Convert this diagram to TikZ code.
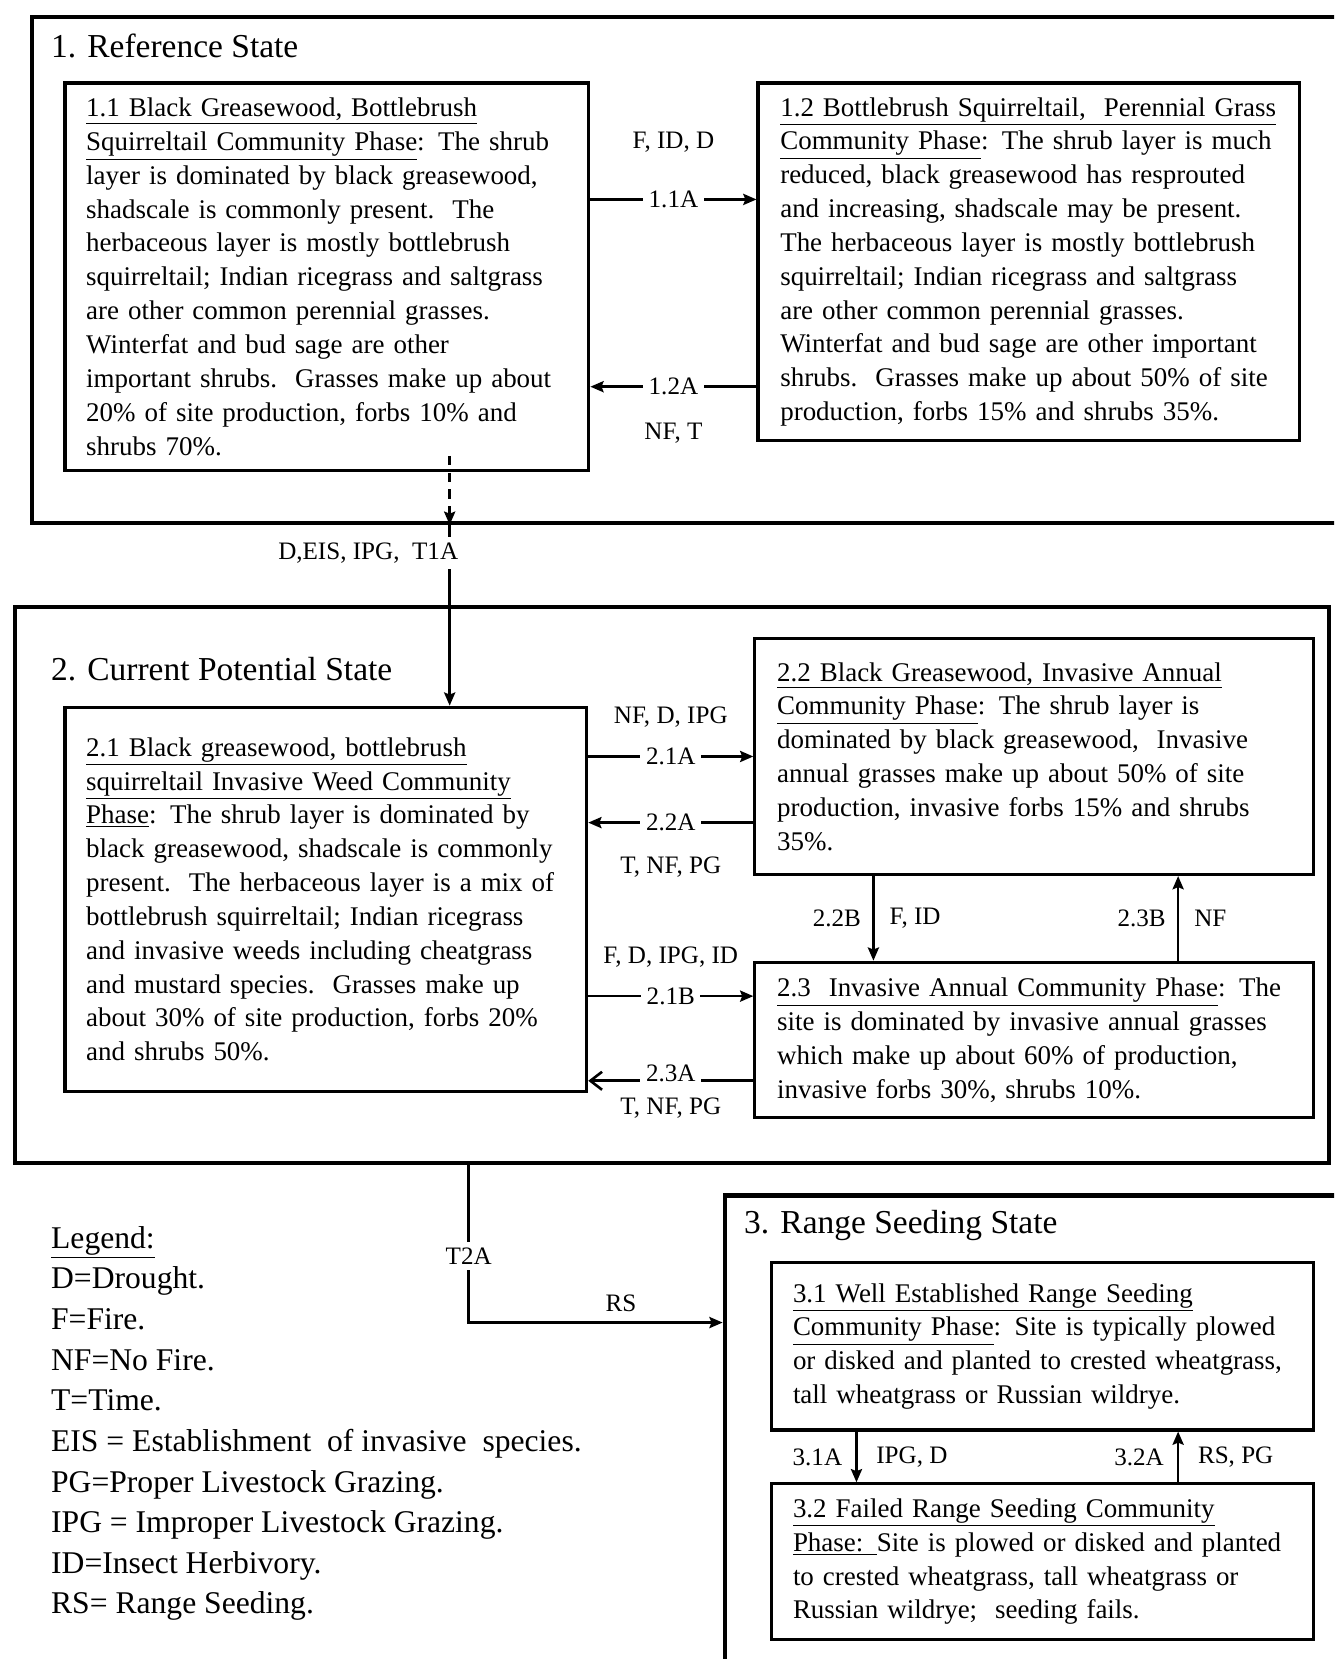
\documentclass[tikz,border=0pt]{standalone}
\usepackage{fontspec}
\setmainfont{Liberation Serif}
\usetikzlibrary{arrows.meta, positioning}

\begin{document}
\begin{tikzpicture}[
  state/.style={draw, line width=2.3pt, anchor=north west, inner sep=0pt},
  phase/.style={draw, line width=1.7pt, anchor=north west, align=left,
    inner xsep=0.4cm, inner ysep=0pt, font=\fontsize{14.5}{18.2}\selectfont},
  ttl/.style={anchor=west, inner sep=0pt, font=\fontsize{18}{22}\selectfont},
  lbl/.style={font=\fontsize{13.5}{16}\selectfont, inner sep=2pt},
  cut/.style={lbl, fill=white, inner sep=3pt},
  arr/.style={-{Stealth[length=2.5mm, width=2.1mm, inset=0.4mm]}, line width=1.4pt},
  barb/.style={-{Straight Barb[length=2.2mm, width=3.4mm]}, line width=1.4pt}
]
  \useasboundingbox (0,0) rectangle (25.22,-31.36);
  \clip (0,0) rectangle (25.22,-31.36);

  % states
  \node[state, minimum width=25.44cm, minimum height=9.56cm] (st1) at (0.56,-0.28) {};
  \node[state, minimum width=24.84cm, minimum height=10.5cm] (st2) at (0.24,-11.44) {};
  \node[state, minimum width=12cm, minimum height=10cm] (st3) at (13.66,-22.56) {};

  \node[ttl] (t1) at ([xshift=0.4cm, yshift=-0.58cm]st1.north west) {1. Reference State};
  \node[ttl] (t2) at ([xshift=0.72cm, yshift=-1.2cm]st2.north west) {2. Current Potential State};
  \node[ttl] (t3) at ([xshift=0.4cm, yshift=-0.6cm]st3.north west) {3. Range Seeding State};

  % reference state phases
  \node[phase, text width=9.1cm, minimum width=9.9cm, minimum height=7.32cm] (p11)
    at ([xshift=0.64cm, yshift=-1.26cm]st1.north west)
    {\underline{1.1 Black Greasewood, Bottlebrush}\\
     \underline{Squirreltail Community Phase}: The shrub\\
     layer is dominated by black greasewood,\\
     shadscale is commonly present.\ \ The\\
     herbaceous layer is mostly bottlebrush\\
     squirreltail; Indian ricegrass and saltgrass\\
     are other common perennial grasses.\\
     Winterfat and bud sage are other\\
     important shrubs.\ \ Grasses make up about\\
     20\% of site production, forbs 10\% and\\
     shrubs 70\%.};
  \node[phase, text width=9.4cm, minimum width=10.24cm, minimum height=6.76cm,
    right=3.14cm of p11.north east, anchor=north west] (p12)
    {\underline{1.2 Bottlebrush Squirreltail,\ \ Perennial Grass}\\
     \underline{Community Phase}: The shrub layer is much\\
     reduced, black greasewood has resprouted\\
     and increasing, shadscale may be present.\\
     The herbaceous layer is mostly bottlebrush\\
     squirreltail; Indian ricegrass and saltgrass\\
     are other common perennial grasses.\\
     Winterfat and bud sage are other important\\
     shrubs.\ \ Grasses make up about 50\% of site\\
     production, forbs 15\% and shrubs 35\%.};

  % current potential state phases
  \node[phase, text width=9.06cm, minimum width=9.86cm, minimum height=7.26cm] (p21)
    at ([xshift=0.96cm, yshift=-1.9cm]st2.north west)
    {\underline{2.1 Black greasewood, bottlebrush}\\
     \underline{squirreltail Invasive Weed Community}\\
     \underline{Phase}: The shrub layer is dominated by\\
     black greasewood, shadscale is commonly\\
     present.\ \ The herbaceous layer is a mix of\\
     bottlebrush squirreltail; Indian ricegrass\\
     and invasive weeds including cheatgrass\\
     and mustard species.\ \ Grasses make up\\
     about 30\% of site production, forbs 20\%\\
     and shrubs 50\%.};
  \node[phase, text width=9.72cm, minimum width=10.56cm, minimum height=4.46cm] (p22)
    at ([xshift=14cm, yshift=-0.6cm]st2.north west)
    {\underline{2.2 Black Greasewood, Invasive Annual}\\
     \underline{Community Phase}: The shrub layer is\\
     dominated by black greasewood,\ \ Invasive\\
     annual grasses make up about 50\% of site\\
     production, invasive forbs 15\% and shrubs\\
     35\%.};
  \node[phase, text width=9.72cm, minimum width=10.56cm, minimum height=2.94cm,
    below=1.6cm of p22.south west, anchor=north west] (p23)
    {\underline{2.3\ \ Invasive Annual Community Phase}: The\\
     site is dominated by invasive annual grasses\\
     which make up about 60\% of production,\\
     invasive forbs 30\%, shrubs 10\%.};

  % range seeding state phases
  \node[phase, text width=9.44cm, minimum width=10.24cm, minimum height=3.16cm] (p31)
    at ([xshift=0.9cm, yshift=-1.28cm]st3.north west)
    {\underline{3.1 Well Established Range Seeding}\\
     \underline{Community Phase}: Site is typically plowed\\
     or disked and planted to crested wheatgrass,\\
     tall wheatgrass or Russian wildrye.};
  \node[phase, text width=9.44cm, minimum width=10.24cm, minimum height=2.94cm,
    below=0.96cm of p31.south west, anchor=north west] (p32)
    {\underline{3.2 Failed Range Seeding Community}\\
     \underline{Phase: }Site is plowed or disked and planted\\
     to crested wheatgrass, tall wheatgrass or\\
     Russian wildrye;\ \ seeding fails.};

  % legend
  \node[anchor=west, align=left, inner sep=0pt, font=\fontsize{17}{21.85}\selectfont] (legend)
    at (0.96,-26.91)
    {\underline{Legend:}\\
     D=Drought.\\
     F=Fire.\\
     NF=No Fire.\\
     T=Time.\\
     EIS = Establishment\ \ of invasive\ \ species.\\
     PG=Proper Livestock Grazing.\\
     IPG = Improper Livestock Grazing.\\
     ID=Insect Herbivory.\\
     RS= Range Seeding.};

  % pathways within state 1
  \coordinate (a11) at ([yshift=1.46cm]p11.east);
  \coordinate (a12) at ([yshift=-2.36cm]p12.west);
  \draw[arr] (a11) -- node[cut]{1.1A} node[lbl, yshift=1.08cm]{F, ID, D} (a11 -| p12.west);
  \draw[arr] (a12) -- node[cut]{1.2A} node[lbl, yshift=-0.88cm]{NF, T} (a12 -| p11.east);

  % transition 1 -> 2
  \coordinate (t1top) at ([xshift=7.3cm, yshift=0.3cm]p11.south west);
  \coordinate (t1a) at (t1top |- st1.south);
  \draw[arr, dash pattern=on 5pt off 4pt] (t1top) -- (t1a);
  \draw[arr] (t1a) -- node[cut, pos=0.154, xshift=-1.54cm]{D,EIS, IPG,\ \ T1A} (t1a |- p21.north);

  % pathways within state 2
  \coordinate (a22) at ([yshift=-1.25cm]p22.west);
  \coordinate (b21) at ([yshift=0.83cm]p23.west);
  \coordinate (a23) at ([yshift=-0.77cm]p23.west);
  \draw[arr] (p22.west -| p21.east) -- node[cut]{2.1A} node[lbl, yshift=0.74cm]{NF, D, IPG} (p22.west);
  \draw[arr] (a22) -- node[cut]{2.2A} node[lbl, yshift=-0.84cm]{T, NF, PG} (a22 -| p21.east);
  \draw[arr] (b21 -| p21.east) -- node[cut]{2.1B} node[lbl, yshift=0.74cm]{F, D, IPG, ID} (b21);
  \draw[barb] (a23) -- node[cut, yshift=0.14cm]{2.3A} node[lbl, yshift=-0.52cm]{T, NF, PG} (a23 -| p21.east);

  \coordinate (b22) at ([xshift=-3.04cm]p22.south);
  \coordinate (b23) at ([xshift=2.72cm]p23.north);
  \draw[arr] (b22) -- node[lbl, left=4pt]{2.2B} node[lbl, right=6pt]{F, ID} (b22 |- p23.north);
  \draw[arr] (b23) -- node[lbl, left=4pt]{2.3B} node[lbl, right=6pt]{NF} (b23 |- p22.south);

  % transition 2 -> 3
  \coordinate (t2a) at ([xshift=8.62cm]st2.south west);
  \coordinate (rs) at ([yshift=-2.44cm]st3.north west);
  \draw[arr] (t2a) |- node[cut, pos=0.29]{T2A} node[lbl, pos=0.8, above=3pt]{RS} (rs);

  % pathways within state 3
  \coordinate (c31) at ([xshift=-3.52cm]p31.south);
  \coordinate (c32) at ([xshift=2.56cm]p32.north);
  \draw[arr] (c31) -- node[lbl, left=5pt]{3.1A} node[lbl, right=8pt]{IPG, D} (c31 |- p32.north);
  \draw[arr] (c32) -- node[lbl, left=5pt]{3.2A} node[lbl, right=8pt]{RS, PG} (c32 |- p31.south);
\end{tikzpicture}
\end{document}
